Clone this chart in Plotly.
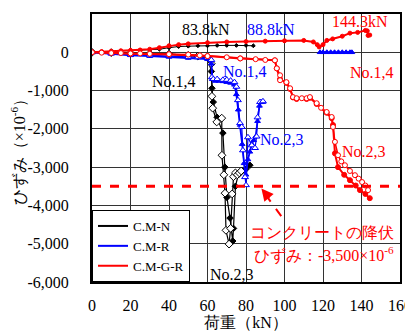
import plotly.graph_objects as go

# ---------------- data (load kN, strain x10^-6) ----------------
# C.M-N (black)
cmn_top_x = [0, 5, 10, 15, 20, 25, 30, 35, 40, 45, 50, 55, 60, 65, 70, 75, 80, 83.8]
cmn_top_y = [0, 10, 20, 30, 40, 50, 60, 80, 120, 150, 160, 170, 170, 180, 180, 180, 180, 170]

cmn_open_x = [0, 10, 20, 30, 40, 50, 55, 60, 62, 62.3, 62.7, 64.8, 67.4, 67.5, 68.5, 69.1, 69.6,
              71.2, 72.0, 72.8, 73.5, 74.5, 75.5, 76.5, 77.5]
cmn_open_y = [0, -10, -20, -40, -50, -80, -100, -120, -300, -1150, -1460, -1820, -1720, -2690, -3200,
              -3680, -4650, -5010, -4600, -3700, -3250, -3150, -3200, -3150, -3100]

cmn_fill_x = [0, 10, 20, 30, 40, 50, 55, 60, 62, 62.3, 63, 65, 68, 69, 70.1, 71.7, 73.1, 73.5,
              74.5, 76, 78, 80, 82]
cmn_fill_y = [0, -10, -20, -40, -50, -80, -100, -150, -500, -940, -1300, -1700, -2110, -3000,
              -3790, -4330, -4930, -4600, -3500, -3200, -3100, -3050, -2950]

# C.M-R (blue)
cmr_open_x = [0, 10, 20, 30, 40, 50, 55, 60, 62, 62.3, 63, 65, 68, 70, 72, 74, 75, 75.8, 76.9,
              77.8, 78.4, 79.5, 80, 81, 83, 84.7, 85.5, 86, 87.3, 88.8]
cmr_open_y = [0, -30, -60, -80, -100, -120, -130, -150, -200, -650, -700, -700, -720, -720, -740,
              -780, -900, -1250, -1850, -1950, -2560, -3260, -3470, -2220, -2430, -2500, -2200,
              -1700, -1300, -1280]

cmr_fill_x = [0, 10, 20, 30, 40, 50, 60, 62, 62.5, 64, 66, 68, 70, 72, 74, 75, 76, 77, 78, 79,
              80, 81, 82, 83, 84, 85, 86, 87, 88, 88.8,
              None, 118.5, 120, 122, 124, 126, 128, 130, 132, 134, 135]
cmr_fill_y = [0, -40, -80, -100, -120, -150, -180, -300, -700, -750, -750, -760, -780, -800, -850,
              -1100, -1500, -1900, -2400, -2900, -3200, -2800, -2600, -2400, -2300, -2200, -1800,
              -1400, -1300, -1300,
              None, 0, 0, 0, 0, 0, 0, 0, 0, 0, 0]

# C.M-G-R (red)
cmgr_top_x = [0, 5, 10, 15, 20, 25, 30, 35, 40, 45, 50, 60, 70, 80, 90, 100, 110, 115, 117, 118,
              120, 122, 125, 130, 134, 138, 142, 143, 143.4, 144.3]
cmgr_top_y = [0, 20, 30, 40, 50, 60, 80, 120, 170, 200, 220, 250, 270, 280, 290, 300, 310, 270,
              200, 140, 200, 310, 350, 420, 500, 520, 570, 560, 440, 450]

cmgr_open_x = [0, 5, 10, 15, 20, 25, 30, 40, 50, 56, 60, 70, 77, 85, 90, 95, 96, 97.7, 97.7,
               101, 102.9, 104.4, 106.3, 109, 111.5, 113.2, 116.7, 119, 121.9, 124.5, 125.2,
               126.2, 127.8, 129.5, 131.4, 134, 136.6, 138.5, 140.3, 142, 143.4]
cmgr_open_y = [0, -10, -20, -20, -30, -30, -40, -50, -60, -80, -100, -130, -160, -180, -200,
               -210, -420, -600, -730, -780, -940, -1170, -1200, -1200, -1200, -1170, -1330,
               -1450, -1560, -1690, -1950, -2340, -2690, -2850, -2950, -3100, -3210, -3300,
               -3390, -3480, -3600]

cmgr_fill_x = [0, 20, 40, 60, 77, 95, 96, 97.7, 101, 102.9, 104.4, 106.3, 111.5, 113.2, 116.7,
               121.9, 124.5, 125.2, 126.2, 127.8, 131, 134, 137, 139.2, 142, 144.3]
cmgr_fill_y = [0, -40, -60, -100, -160, -210, -420, -700, -800, -960, -1180, -1220, -1220, -1190,
               -1350, -1580, -1720, -1900, -2640, -3000, -3200, -3340, -3480, -3600, -3700, -3810]

YIELD_STRAIN = -3500
x_ticks = [0, 20, 40, 60, 80, 100, 120, 140, 160]
y_ticks = [1000, 0, -1000, -2000, -3000, -4000, -5000, -6000]
y_tick_text = ["1,000", "0", "-1,000", "-2,000", "-3,000", "-4,000", "-5,000", "-6,000"]

SERIF = "Liberation Serif"
BLACK, BLUE, RED = "#000000", "#0000ff", "#ff0000"

fig = go.Figure()


def add(x, y, color, symbol, open_, size=5, width=1.2):
    fig.add_trace(go.Scatter(
        x=x, y=y, mode="lines+markers", showlegend=False, hoverinfo="skip",
        line=dict(color=color, width=width),
        marker=dict(symbol=symbol, size=size,
                    color="white" if open_ else color,
                    line=dict(color=color, width=1)),
    ))


# black
add(cmn_top_x, cmn_top_y, BLACK, "diamond", False, size=3, width=1)
add(cmn_fill_x, cmn_fill_y, BLACK, "diamond", False, size=5)
add(cmn_open_x, cmn_open_y, BLACK, "diamond", True, size=6)
# blue
add(cmr_fill_x, cmr_fill_y, BLUE, "triangle-up", False, size=5, width=1.8)
add(cmr_open_x, cmr_open_y, BLUE, "triangle-up", True, size=6, width=1.2)
# red
add(cmgr_top_x, cmgr_top_y, RED, "circle", False, size=4, width=2)
add(cmgr_fill_x, cmgr_fill_y, RED, "circle", False, size=5, width=2)
add(cmgr_open_x, cmgr_open_y, RED, "circle", True, size=5, width=1.5)

# legend entries
for name, c in [("C.M-N", BLACK), ("C.M-R", BLUE), ("C.M-G-R", RED)]:
    fig.add_trace(go.Scatter(x=[None], y=[None], mode="lines", name=name,
                             line=dict(color=c, width=2)))

# yield line
fig.add_shape(type="line", xref="paper", x0=0, x1=1, yref="y", y0=YIELD_STRAIN, y1=YIELD_STRAIN,
              line=dict(color=RED, width=3, dash="dash"))
# dashed arrow
arrow_tail = (98.3, -4280)
arrow_head = (88.0, -3560)
fig.add_shape(type="line", x0=arrow_tail[0], y0=arrow_tail[1], x1=arrow_head[0] + 1.2,
              y1=arrow_head[1] - 90, line=dict(color=RED, width=2, dash="dash"))
fig.add_annotation(x=arrow_head[0], y=arrow_head[1], ax=9, ay=11, text="", showarrow=True,
                   arrowhead=2, arrowsize=1.2, arrowwidth=2, arrowcolor=RED)

ann_font = dict(family=SERIF, size=16)
labels = [
    ("83.8kN", 59, 600, BLACK), ("88.8kN", 93.1, 600, BLUE), ("144.3kN", 139.2, 800, RED),
    ("No.1,4", 42.6, -760, BLACK), ("No.1,4", 79.5, -500, BLUE), ("No.1,4", 145.5, -520, RED),
    ("No.2,3", 98.7, -2270, BLUE), ("No.2,3", 141.3, -2590, RED), ("No.2,3", 72.7, -5800, BLACK),
]
for t, x, y, c in labels:
    fig.add_annotation(x=x, y=y, text=t, showarrow=False, font=dict(color=c, **ann_font))

fig.add_annotation(x=119.5, y=-4700, text="コンクリートの降伏", showarrow=False,
                   font=dict(color=RED, family=SERIF, size=16))
fig.add_annotation(x=120.5, y=-5290, text="ひずみ：-3,500×10<sup>-6</sup>", showarrow=False,
                   font=dict(color=RED, family=SERIF, size=16))

# page body has an 8px margin, so the figure is sized to fit the remaining window
fig.update_layout(
    width=405, height=324,
    margin=dict(l=84, r=13, t=6, b=50, autoexpand=False),
    paper_bgcolor="white", plot_bgcolor="white",
    font=dict(family=SERIF, size=16, color="black"),
    showlegend=True,
    legend=dict(x=0, y=0, xanchor="left", yanchor="bottom", bgcolor="white",
                bordercolor="black", borderwidth=1, font=dict(family=SERIF, size=13),
                tracegroupgap=0, itemwidth=30),
    xaxis=dict(range=[0, 160], tickvals=x_ticks, showgrid=True, gridcolor="#333333", gridwidth=1,
               showline=True, linecolor="black", linewidth=2, mirror=True, zeroline=False,
               ticks="", ticklabelstandoff=8, automargin=False,
               tickfont=dict(family=SERIF, size=16),
               title=dict(text="荷重（kN）", font=dict(family=SERIF, size=16), standoff=2)),
    yaxis=dict(range=[-6000, 1000], tickvals=y_ticks, ticktext=y_tick_text, showgrid=True,
               gridcolor="#333333", gridwidth=1, showline=True, linecolor="black", linewidth=2,
               mirror=True, zeroline=False, ticks="", ticklabelstandoff=18, automargin=False,
               tickfont=dict(family=SERIF, size=16),
               title=dict(text="ひずみ（×10<sup>-6</sup>）", font=dict(family=SERIF, size=16),
                          standoff=4)),
)

fig.write_html("out.html")
